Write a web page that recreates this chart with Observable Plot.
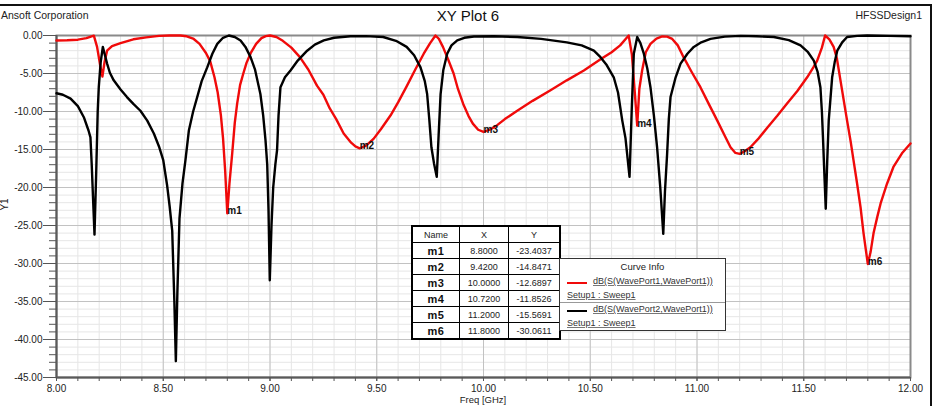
<!DOCTYPE html>
<html>
<head>
<meta charset="utf-8">
<script src="https://cdn.jsdelivr.net/npm/d3@7"></script>
<script src="https://cdn.jsdelivr.net/npm/@observablehq/plot@0.6"></script>
<style>
  html, body { margin: 0; padding: 0; background: #fff; }
  #wrap { position: relative; width: 936px; height: 406px; overflow: hidden; font-family: "Liberation Sans", Arial, sans-serif; color: #222; }
  #wrap svg { position: absolute; left: 0; top: 0; }
  .abs { position: absolute; white-space: nowrap; }
  #mtable { position: absolute; left: 411px; top: 225px; border-collapse: collapse; border: 2px solid #000; background: #fff; }
  #mtable td { border: 1px solid #000; height: 15px; padding: 0; text-align: center; font-size: 9px; color: #222; }
  #mtable td.nm { font-weight: bold; font-size: 11px; letter-spacing: 0.5px; color: #111; }
  #legend { position: absolute; left: 559px; top: 258px; width: 165px; height: 71px; border: 1px solid #333; background: #fff; }
  #legend .ttl { position: absolute; left: 0; width: 165px; top: 2px; text-align: center; font-size: 9.5px; color: #222; }
  #legend .sw { position: absolute; left: 7px; width: 20px; height: 2px; }
  #legend .t1 { position: absolute; left: 33px; font-size: 9px; text-decoration: underline; text-decoration-color: #777; color: #333; }
  #legend .t2 { position: absolute; left: 7px; font-size: 9px; text-decoration: underline; text-decoration-color: #777; color: #333; }
  #legend .div { position: absolute; left: 0; width: 165px; top: 43px; height: 1px; background: #999; }
</style>
</head>
<body>
<div id="wrap"></div>
<script>
// ---- Data ----
const s11Points = [ // dB(S(WavePort1,WavePort1)) : [freq GHz, dB]
  [8.00,-0.65],[8.05,-0.62],[8.10,-0.55],[8.14,-0.35],[8.175,-0.02],[8.19,-1.5],[8.205,-4.0],[8.215,-5.4],
  [8.225,-3.5],[8.237,-2.0],[8.26,-1.4],[8.30,-1.0],[8.36,-0.5],[8.42,-0.25],[8.48,-0.05],[8.53,0.0],
  [8.58,0.0],[8.61,-0.1],[8.64,-0.4],[8.67,-1.1],[8.70,-2.3],[8.72,-3.4],[8.74,-5.5],[8.755,-7.5],
  [8.77,-10.5],[8.78,-13.5],[8.79,-17.8],[8.80,-23.4],[8.81,-19.5],[8.823,-15.5],[8.835,-11.5],[8.846,-9.0],
  [8.86,-6.5],[8.875,-5.0],[8.89,-3.6],[8.91,-2.3],[8.935,-1.1],[8.96,-0.35],[8.98,-0.08],[9.00,0.0],
  [9.03,-0.2],[9.06,-0.7],[9.10,-1.6],[9.14,-2.85],[9.18,-4.5],[9.22,-6.6],[9.25,-7.8],[9.28,-9.6],
  [9.31,-11.0],[9.345,-12.9],[9.38,-14.1],[9.40,-14.6],[9.42,-14.85],[9.45,-14.5],[9.485,-13.6],[9.52,-12.3],
  [9.565,-10.5],[9.60,-8.8],[9.64,-6.7],[9.68,-4.5],[9.72,-2.4],[9.75,-1.0],[9.775,0.0],[9.79,-0.4],
  [9.81,-1.5],[9.835,-3.2],[9.86,-5.0],[9.88,-7.0],[9.905,-9.0],[9.93,-10.6],[9.95,-11.6],[9.975,-12.4],
  [10.00,-12.69],[10.03,-12.4],[10.064,-11.8],[10.10,-11.0],[10.158,-9.9],[10.23,-8.6],[10.314,-7.2],[10.39,-5.9],
  [10.47,-4.6],[10.55,-3.1],[10.60,-2.2],[10.64,-1.3],[10.68,0.0],[10.695,-2.5],[10.71,-8.0],[10.72,-11.85],
  [10.73,-7.0],[10.743,-4.6],[10.76,-2.2],[10.782,-1.1],[10.81,-0.4],[10.837,-0.13],[10.86,-0.15],[10.884,-0.45],
  [10.91,-1.3],[10.937,-2.85],[10.975,-4.8],[11.016,-6.8],[11.055,-9.0],[11.095,-11.2],[11.13,-13.2],[11.157,-14.7],
  [11.18,-15.45],[11.20,-15.57],[11.225,-15.2],[11.25,-14.7],[11.29,-13.5],[11.33,-12.1],[11.375,-10.6],[11.42,-9.0],
  [11.47,-7.3],[11.516,-5.5],[11.545,-4.2],[11.563,-3.3],[11.585,-1.6],[11.60,0.0],[11.62,-0.5],[11.64,-1.5],
  [11.655,-3.0],[11.672,-5.9],[11.69,-9.0],[11.703,-11.2],[11.72,-14.0],[11.733,-16.4],[11.75,-19.5],[11.766,-22.6],
  [11.78,-26.0],[11.80,-30.06],[11.813,-28.5],[11.827,-26.0],[11.845,-23.8],[11.86,-22.1],[11.89,-19.5],[11.92,-17.3],
  [11.96,-15.5],[12.00,-14.2]
];
const s21Points = [ // dB(S(WavePort2,WavePort1)) : [freq GHz, dB]
  [8.00,-7.6],[8.03,-7.8],[8.066,-8.3],[8.10,-9.3],[8.128,-10.75],[8.15,-12.5],[8.159,-13.4],[8.165,-17.0],
  [8.172,-22.0],[8.178,-26.2],[8.186,-18.0],[8.193,-10.0],[8.198,-6.8],[8.207,-3.5],[8.217,-1.5],[8.227,-2.6],
  [8.237,-3.7],[8.25,-4.9],[8.268,-5.9],[8.30,-7.1],[8.33,-8.1],[8.36,-9.0],[8.393,-9.9],[8.425,-11.2],
  [8.456,-12.9],[8.48,-14.6],[8.50,-16.4],[8.518,-19.7],[8.53,-22.5],[8.542,-25.7],[8.552,-35.0],[8.559,-42.85],
  [8.566,-34.0],[8.576,-24.1],[8.59,-19.5],[8.604,-16.4],[8.62,-12.5],[8.64,-10.0],[8.659,-8.1],[8.68,-6.0],
  [8.706,-4.2],[8.73,-2.4],[8.753,-1.1],[8.78,-0.3],[8.807,0.0],[8.835,-0.2],[8.862,-0.65],[8.885,-1.5],
  [8.909,-2.85],[8.93,-4.5],[8.955,-7.7],[8.968,-10.5],[8.979,-13.8],[8.987,-17.0],[8.993,-23.0],[8.999,-32.2],
  [9.007,-25.0],[9.015,-20.0],[9.025,-17.0],[9.033,-15.1],[9.04,-10.5],[9.049,-6.8],[9.07,-5.5],[9.096,-4.6],
  [9.13,-3.3],[9.174,-2.0],[9.21,-1.2],[9.252,-0.65],[9.30,-0.3],[9.377,-0.1],[9.45,-0.08],[9.53,-0.2],
  [9.59,-0.7],[9.64,-1.5],[9.675,-2.6],[9.705,-4.2],[9.725,-6.0],[9.736,-7.7],[9.746,-11.0],[9.756,-14.7],
  [9.768,-16.8],[9.781,-18.6],[9.79,-13.0],[9.799,-7.7],[9.812,-4.5],[9.83,-2.4],[9.85,-1.3],[9.877,-0.65],
  [9.91,-0.3],[9.955,-0.13],[10.05,-0.1],[10.158,-0.2],[10.27,-0.45],[10.39,-0.9],[10.46,-1.3],[10.517,-2.0],
  [10.548,-2.85],[10.575,-3.8],[10.61,-5.5],[10.63,-7.5],[10.65,-11.2],[10.665,-13.5],[10.684,-18.6],[10.694,-10.0],
  [10.704,-2.4],[10.72,-0.2],[10.735,-1.0],[10.751,-2.4],[10.767,-4.3],[10.782,-6.8],[10.798,-10.5],[10.813,-14.7],
  [10.828,-20.0],[10.842,-26.1],[10.85,-20.5],[10.86,-15.6],[10.868,-11.0],[10.876,-8.1],[10.90,-5.5],[10.923,-3.7],
  [10.955,-2.4],[10.985,-1.5],[11.02,-0.9],[11.063,-0.45],[11.13,-0.15],[11.204,-0.05],[11.28,-0.1],[11.36,-0.2],
  [11.43,-0.6],[11.485,-1.3],[11.52,-2.2],[11.547,-3.3],[11.565,-4.8],[11.578,-6.8],[11.585,-10.0],[11.59,-13.4],
  [11.597,-18.5],[11.603,-22.8],[11.61,-16.5],[11.617,-11.2],[11.633,-5.5],[11.645,-3.5],[11.657,-2.0],[11.68,-0.9],
  [11.703,-0.2],[11.75,-0.05],[11.797,0.0],[11.90,-0.05],[12.00,-0.1]
];
const markerNames = ["m1","m2","m3","m4","m5","m6"];
const markerFreq  = [8.8, 9.42, 10.0, 10.72, 11.2, 11.8];
const markerDb    = [-23.4037, -14.8471, -12.6897, -11.8526, -15.5691, -30.0611];
const seriesNames = ["dB(S(WavePort1,WavePort1))", "dB(S(WavePort2,WavePort1))"];
const seriesSetup = ["Setup1 : Sweep1", "Setup1 : Sweep1"];
const xMajorTicks = [8.0, 8.5, 9.0, 9.5, 10.0, 10.5, 11.0, 11.5, 12.0];
const yMajorTicks = [0, -5, -10, -15, -20, -25, -30, -35, -40, -45];
const titleText = "XY Plot 6";
const leftHeader = "Ansoft Corporation";
const rightHeader = "HFSSDesign1";
const xLabel = "Freq [GHz]";
const yLabel = "Y1";

// ---- Build ----
const s11 = s11Points.map(([f, v]) => ({f, v}));
const s21 = s21Points.map(([f, v]) => ({f, v}));
const markers = markerNames.map((n, i) => ({n, f: markerFreq[i], v: markerDb[i]}));
const xMinorTicks = d3.range(80, 121).map(d => d / 10);
const yMinorTicks = d3.range(-45, 1);
const fmt2 = d => d.toFixed(2);

const chart = Plot.plot({
  width: 936, height: 406,
  marginLeft: 56, marginRight: 26, marginTop: 35, marginBottom: 29,
  x: {domain: [8, 12]},
  y: {domain: [-45, 0]},
  style: {fontFamily: "'Liberation Sans', Arial, sans-serif", fontSize: "10px", color: "#222", background: "transparent", overflow: "visible"},
  marks: [
    Plot.gridX(xMinorTicks, {stroke: "#e6e6e6", strokeOpacity: 1}),
    Plot.gridY(yMinorTicks, {stroke: "#e6e6e6", strokeOpacity: 1}),
    Plot.gridX(xMajorTicks, {stroke: "#c2c2c2", strokeOpacity: 1}),
    Plot.gridY(yMajorTicks, {stroke: "#c2c2c2", strokeOpacity: 1}),
    Plot.frame({stroke: "#8a8a8a", strokeWidth: 2}),
    Plot.ruleX([8], {stroke: "#5a5a5a", strokeWidth: 2}),
    Plot.ruleY([-45], {stroke: "#5a5a5a", strokeWidth: 2}),
    Plot.line(s11, {x: "f", y: "v", stroke: "#f00a0a", strokeWidth: 2.4}),
    Plot.line(s21, {x: "f", y: "v", stroke: "#000", strokeWidth: 2.4}),
    Plot.text(markers, {x: "f", y: "v", text: "n", textAnchor: "start", lineAnchor: "bottom", dy: 1, fontWeight: "bold", fontSize: 10, fill: "#111"}),
    Plot.axisX(xMinorTicks, {tickSize: 4, tickFormat: () => "", label: null, stroke: "#555"}),
    Plot.axisX(xMajorTicks, {tickSize: 4, tickPadding: 3, tickFormat: fmt2, label: null, stroke: "#555", fill: "#222"}),
    Plot.axisY(yMinorTicks, {tickSize: 7, tickFormat: () => "", label: null, stroke: "#555"}),
    Plot.axisY(yMajorTicks, {tickSize: 13, tickPadding: 1, tickFormat: fmt2, label: null, stroke: "#555", fill: "#222"})
  ]
});

const wrap = document.getElementById("wrap");
wrap.appendChild(chart);

function addText(txt, css) {
  const d = document.createElement("div");
  d.className = "abs";
  d.textContent = txt;
  Object.assign(d.style, css);
  wrap.appendChild(d);
  return d;
}
// border lines
const topLine = document.createElement("div");
Object.assign(topLine.style, {position: "absolute", left: "0px", top: "4px", width: "932px", height: "2px", background: "#111"});
wrap.appendChild(topLine);
const rightLine = document.createElement("div");
Object.assign(rightLine.style, {position: "absolute", left: "930px", top: "4px", width: "2px", height: "402px", background: "#111"});
wrap.appendChild(rightLine);

addText(leftHeader, {left: "1px", top: "9px", fontSize: "10.5px", color: "#222"});
addText(titleText, {left: "0px", width: "936px", textAlign: "center", top: "7px", fontSize: "15px", color: "#111"});
addText(rightHeader, {right: "14px", top: "9px", fontSize: "10.5px", color: "#222"});
addText(xLabel, {left: "0px", width: "966px", textAlign: "center", top: "395px", fontSize: "9.5px", lineHeight: "10px", color: "#222"});
addText(yLabel, {left: "-2px", top: "199px", fontSize: "10px", color: "#222", transform: "rotate(-90deg)"});

// marker table
const tbl = document.createElement("table");
tbl.id = "mtable";
const colW = [46, 48, 50];
let html = "<tr>" + ["Name", "X", "Y"].map((h, i) => `<td style="width:${colW[i]}px">${h}</td>`).join("") + "</tr>";
markers.forEach(m => {
  html += `<tr><td class="nm">${m.n}</td><td>${m.f.toFixed(4)}</td><td>${m.v.toFixed(4)}</td></tr>`;
});
tbl.innerHTML = html;
wrap.appendChild(tbl);

// curve info legend
const lg = document.createElement("div");
lg.id = "legend";
const colors = ["#f00a0a", "#000"];
let lh = `<div class="ttl">Curve Info</div><div class="div"></div>`;
seriesNames.forEach((s, i) => {
  const base = i === 0 ? 15 : 43;
  lh += `<div class="sw" style="top:${base + 8}px;background:${colors[i]}"></div>`;
  lh += `<div class="t1" style="top:${base + 2}px">${s}</div>`;
  lh += `<div class="t2" style="top:${base + 16}px">${seriesSetup[i]}</div>`;
});
lg.innerHTML = lh;
wrap.appendChild(lg);
</script>
</body>
</html>
